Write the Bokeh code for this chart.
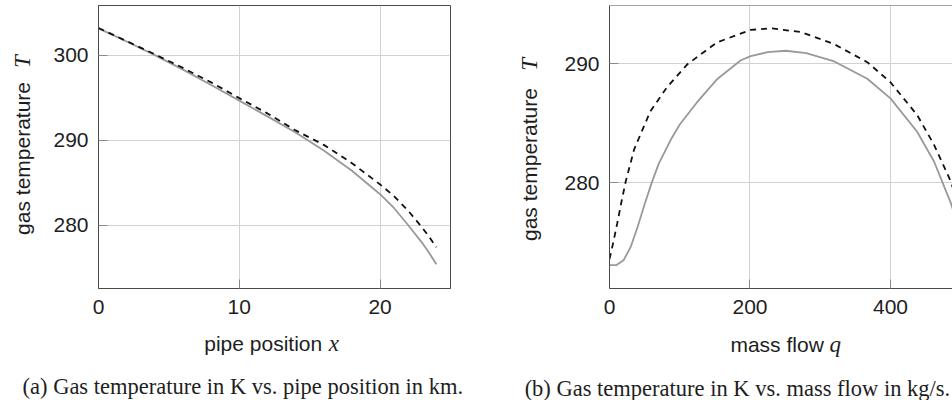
import math
from bokeh.plotting import figure
from bokeh.layouts import row
from bokeh.models import Label, FixedTicker, Range1d, Span
from bokeh.embed import file_html
from bokeh.resources import INLINE

# ---------------- data ----------------
# (a) gas temperature (K) vs pipe position (km)
pos_x = [0, 2, 4, 6, 8, 10, 12, 14, 16, 18, 20, 21, 22, 23, 23.5, 24]
temp_pos_solid = [303.15, 301.6, 300.0, 298.3, 296.5, 294.65, 292.8, 290.9,
                  288.8, 286.4, 283.65, 282.0, 280.0, 277.9, 276.7, 275.4]
temp_pos_dashed = [303.2, 301.65, 300.1, 298.5, 296.8, 294.95, 293.15, 291.15,
                   289.45, 287.3, 284.8, 283.4, 281.7, 279.7, 278.6, 277.4]

# (b) gas temperature (K) vs mass flow (kg/s)
flow_q_solid = [0, 10, 20, 30, 40, 50, 60, 70, 87, 100, 125, 153, 187, 201,
                225, 251, 280, 320, 367, 400, 438, 462, 486, 500]
temp_flow_solid = [273.1, 273.1, 273.5, 274.6, 276.3, 278.2, 280.0, 281.6,
                   283.6, 284.9, 286.8, 288.7, 290.3, 290.65, 290.98, 291.1,
                   290.9, 290.2, 288.75, 287.1, 284.3, 281.8, 278.3, 275.8]
flow_q_dashed = [0, 5, 11, 17, 23, 35, 58, 82, 111, 153, 201, 230, 272, 320,
                 367, 400, 438, 462, 486, 500]
temp_flow_dashed = [273.6, 274.9, 276.6, 278.4, 280.1, 282.8, 286.0, 288.05,
                    289.97, 291.8, 292.85, 292.98, 292.68, 291.65, 290.14,
                    288.45, 285.7, 283.2, 280.1, 277.6]

ticks_a_x = [0, 10, 20]
ticks_a_y = [280, 290, 300]
ticks_b_x = [0, 200, 400]
ticks_b_y = [280, 290]

caption_a = "(a) Gas temperature in K vs. pipe position in km."
caption_b = "(b) Gas temperature in K vs. mass flow in kg/s."

SANS = "Liberation Sans"
SERIF = "Liberation Serif"
TXT = "#1e1e1e"
FRAME = "#4a4a4a"
GRID = "#d2d2d2"
SOLID_C = "#999999"
DASH_C = "#111111"


def make_fig(width, height, xr, yr, borders, frame_px):
    left, right, top, bottom = borders
    p = figure(width=width, height=height, output_backend="svg",
               toolbar_location=None, x_range=Range1d(*xr), y_range=Range1d(*yr),
               min_border_left=left, min_border_right=right,
               min_border_top=top, min_border_bottom=bottom)
    p.background_fill_color = "white"
    p.border_fill_color = "white"
    for ax in (p.xaxis, p.yaxis):
        ax.axis_line_color = FRAME
        ax.axis_line_width = 1
        ax.major_tick_in = 9
        ax.major_tick_out = 0
        ax.major_tick_line_color = "#8a8a8a"
        ax.minor_tick_line_color = None
        ax.major_label_text_font = SANS
        ax.major_label_text_font_size = "21px"
        ax.major_label_text_color = TXT
    p.xaxis.major_label_standoff = 11
    p.yaxis.major_label_standoff = 10
    p.grid.grid_line_color = GRID
    p.grid.grid_line_width = 1

    fl, fr, ft, fb = frame_px

    def to_data(px, py):
        x = xr[0] + (px - fl) / (fr - fl) * (xr[1] - xr[0])
        y = yr[0] + (fb - py) / (fb - ft) * (yr[1] - yr[0])
        return x, y
    return p, to_data


def add_text(p, to_data, side, px, py, text, font, size, align="left", angle=0.0,
             style="normal", baseline="alphabetic"):
    x, y = to_data(px, py)
    p.add_layout(Label(x=x, y=y, text=text, text_font=font, text_font_size=size,
                       text_align=align, text_baseline=baseline, angle=angle,
                       text_font_style=style, text_color=TXT), side)


# ---------------- figure (a) ----------------
A_X = (0, 25)
A_Y = (272.56, 305.84)
fa, da = make_fig(480, 400, A_X, A_Y, (98, 30, 5, 110), (98, 450, 5, 290))
fa.outline_line_color = FRAME
fa.outline_line_width = 1
fa.xaxis.ticker = FixedTicker(ticks=ticks_a_x)
fa.yaxis.ticker = FixedTicker(ticks=ticks_a_y)
fa.line(pos_x, temp_pos_solid, line_color=SOLID_C, line_width=1.8)
fa.line(pos_x, temp_pos_dashed, line_color=DASH_C, line_width=1.8, line_dash="6 5")

add_text(fa, da, "left", 21.5, 236, "gas temperature", SANS, "21px", "left", math.pi / 2)
add_text(fa, da, "left", 21.5, 55, "T", SERIF, "23px", "right", math.pi / 2, "italic")
add_text(fa, da, "below", 321.7, 345, "pipe position", SANS, "21px", "right")
add_text(fa, da, "below", 328.3, 345, "x", SERIF, "23px", "left", 0.0, "italic")
add_text(fa, da, "below", 242.3, 389, caption_a, SERIF, "22.5px", "center")

# ---------------- figure (b) ----------------
B_X = (0, 488.3)
B_Y = (271.13, 294.9)
fb_, db = make_fig(472, 400, B_X, B_Y, (129, 0, 2, 112), (609, 952, 2, 288))
fb_.outline_line_color = None
fb_.xaxis.ticker = FixedTicker(ticks=ticks_b_x)
fb_.yaxis.ticker = FixedTicker(ticks=ticks_b_y)
fb_.add_layout(Span(location=B_Y[1], dimension="width", line_color=FRAME, line_width=1))
fb_.line(flow_q_solid, temp_flow_solid, line_color=SOLID_C, line_width=1.8)
fb_.line(flow_q_dashed, temp_flow_dashed, line_color=DASH_C, line_width=1.8, line_dash="6 5")

add_text(fb_, db, "left", 529, 240, "gas temperature", SANS, "21px", "left", math.pi / 2)
add_text(fb_, db, "left", 529, 55, "T", SERIF, "23px", "right", math.pi / 2, "italic")
add_text(fb_, db, "below", 823.3, 345, "mass flow", SANS, "21px", "right")
add_text(fb_, db, "below", 829, 345, "q", SERIF, "23px", "left", 0.0, "italic")
add_text(fb_, db, "below", 736.9, 389, caption_b, SERIF, "22.5px", "center")

layout = row(fa, fb_)
open("out.html", "w").write(file_html(layout, INLINE))
